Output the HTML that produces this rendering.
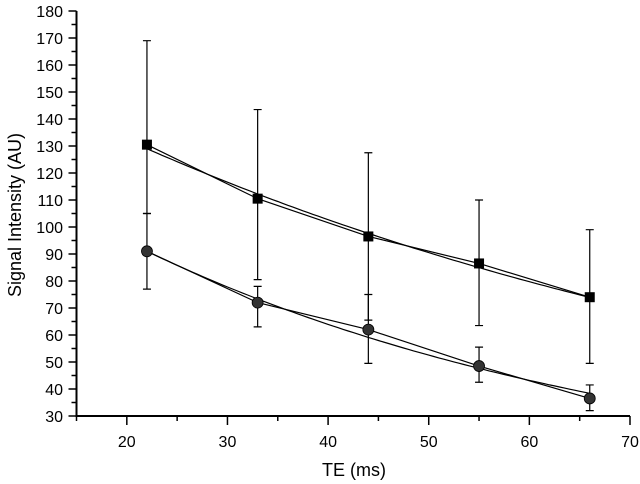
<!DOCTYPE html>
<html><head><meta charset="utf-8"><style>
html,body{margin:0;padding:0;background:#fff;}
svg{display:block;font-family:"Liberation Sans",Arial,sans-serif;}
</style></head><body>
<svg id="chart" width="640" height="484" viewBox="0 0 640 484"></svg>
<script>
const teValues=[22,33,44,55,66];
const squareMeans=[130.5,110.5,96.5,86.5,74];
const squareLow=[105,80.5,65.5,63.5,49.5];
const squareHigh=[169,143.5,127.5,110,99];
const circleMeans=[91,72,62,48.5,36.5];
const circleLow=[77,63,49.5,42.5,32];
const circleHigh=[105,78,75,55.5,41.5];
const squareFit=[129,79];   // amplitude at TE=22, T2
const circleFit=[91,51];
const xTicks=[20,30,40,50,60,70];
const yTicks=[30,40,50,60,70,80,90,100,110,120,130,140,150,160,170,180];

const NS="http://www.w3.org/2000/svg";
const svg=document.getElementById('chart');
const X0=76.5,X1=630,xmin=15,xmax=70,Y0=416,Y1=11,ymin=30,ymax=180;
const sx=v=>X0+(v-xmin)*(X1-X0)/(xmax-xmin);
const sy=v=>Y0-(v-ymin)*(Y0-Y1)/(ymax-ymin);
function mk(t,a,p){const e=document.createElementNS(NS,t);for(const k in a)e.setAttribute(k,a[k]);(p||svg).appendChild(e);return e;}

let e;
e=mk('line',{x1:X0,y1:Y0,x2:X1,y2:Y0,stroke:'#000','stroke-width':2});


e=mk('line',{x1:X0,y1:Y0+1,x2:X0,y2:Y1,stroke:'#000','stroke-width':2});



for(let v=15;v<=70;v+=5){
  const maj=v%10===0;
  e=mk('line',{x1:sx(v),y1:Y0,x2:sx(v),y2:Y0+(maj?9:5),stroke:'#000','stroke-width':1.5});
  
  
}
xTicks.forEach(v=>{
  e=mk('text',{x:sx(v),y:447,'text-anchor':'middle','font-size':16});
  e.textContent=v;
  
  
});
for(let v=30;v<=180;v+=5){
  const maj=v%10===0;
  e=mk('line',{x1:X0,y1:sy(v),x2:X0-(maj?8:5),y2:sy(v),stroke:'#000','stroke-width':1.5});
  
  
}
yTicks.forEach(v=>{
  e=mk('text',{x:63,y:sy(v)+6,'text-anchor':'end','font-size':16});
  e.textContent=v;
  
  
});
e=mk('text',{x:354,y:476,'text-anchor':'middle','font-size':18});
e.textContent='TE (ms)';


e=mk('text',{x:0,y:0,'text-anchor':'middle','font-size':18,transform:'translate(21,215) rotate(-90)'});
e.textContent='Signal Intensity (AU)';



function series(name,means,lo,hi,fit,marker){
  let d='';
  for(let t=teValues[0];t<=teValues[teValues.length-1]+0.01;t+=0.5){
    const v=fit[0]*Math.exp(-(t-teValues[0])/fit[1]);
    d+=(d?'L':'M')+sx(t).toFixed(1)+','+sy(v).toFixed(1);
  }
  e=mk('path',{d:d,fill:'none',stroke:'#000','stroke-width':1.2});
  
  
  e=mk('polyline',{points:teValues.map((t,i)=>sx(t)+','+sy(means[i])).join(' '),fill:'none',stroke:'#000','stroke-width':1.2});
  
  
  teValues.forEach((t,i)=>{
    const x=sx(t);
    e=mk('path',{d:`M${x},${sy(lo[i])}V${sy(hi[i])}M${x-4},${sy(lo[i])}h8M${x-4},${sy(hi[i])}h8`,stroke:'#000','stroke-width':1.2,fill:'none'});
    
    
    if(marker==='square'){
      e=mk('rect',{x:x-5,y:sy(means[i])-5,width:10,height:10,fill:'#000'});
    }else{
      e=mk('circle',{cx:x,cy:sy(means[i]),r:5.5,fill:'#333',stroke:'#000','stroke-width':0.8});
    }
    
    
  });
}
series('square-series',squareMeans,squareLow,squareHigh,squareFit,'square');
series('circle-series',circleMeans,circleLow,circleHigh,circleFit,'circle');
</script>
</body></html>
